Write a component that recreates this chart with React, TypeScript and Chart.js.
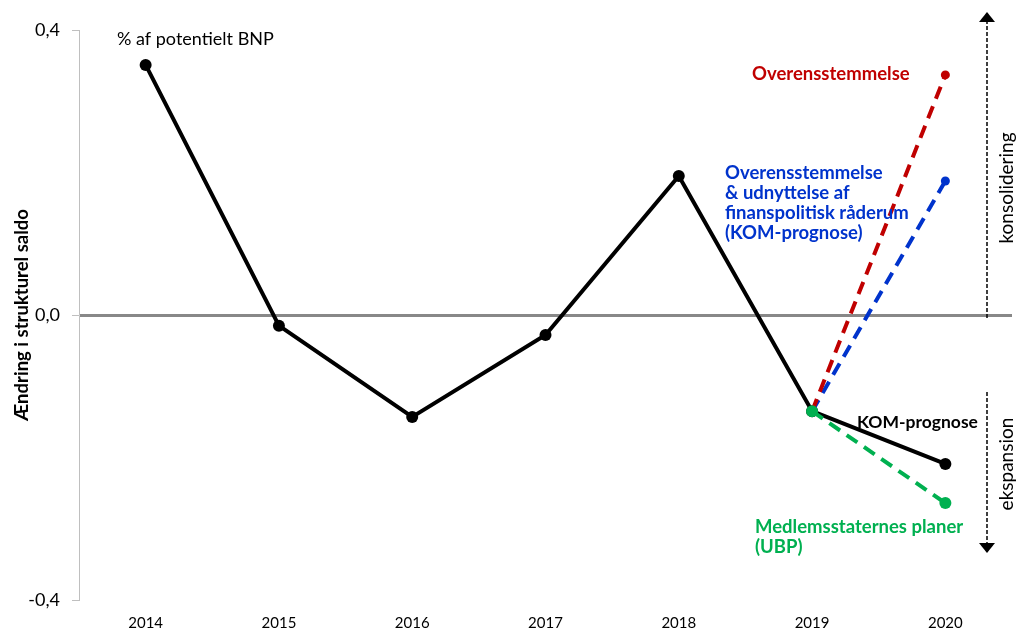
import React, { useEffect, useRef } from "react";
import { Chart, registerables } from "chart.js";

Chart.register(...registerables);

const years = ["2014", "2015", "2016", "2017", "2018", "2019", "2020"];
const komPrognose = [0.351, -0.015, -0.143, -0.028, 0.195, -0.135, -0.209];
const overensstemmelse = [null, null, null, null, null, -0.135, 0.337];
const raaderum = [null, null, null, null, null, -0.135, 0.188];
const ubp = [null, null, null, null, null, -0.135, -0.264];
const yTicks = [-0.4, 0, 0.4];

const FONT = "Lato, 'Open Sans', sans-serif";

const annotationPlugin = {
  id: "annotations",
  afterDraw(chart: any) {
    const ctx = chart.ctx as CanvasRenderingContext2D;
    ctx.save();
    ctx.textBaseline = "middle";
    ctx.fillStyle = "#000";
    ctx.font = `18px ${FONT}`;
    ctx.textAlign = "left";
    ctx.fillText("% af potentielt BNP", 117, 39);

    ctx.font = `bold 18.5px ${FONT}`;
    ctx.fillStyle = "#C00000";
    ctx.fillText("Overensstemmelse", 752, 74);

    ctx.fillStyle = "#0033CC";
    const blue = ["Overensstemmelse", "& udnyttelse af", "finanspolitisk råderum", "(KOM-prognose)"];
    blue.forEach((t, i) => ctx.fillText(t, 725, 173 + i * 20));

    ctx.fillStyle = "#00B050";
    ctx.fillText("Medlemsstaternes planer", 755, 527);
    ctx.fillText("(UBP)", 755, 547);

    ctx.font = `bold 17.5px ${FONT}`;
    ctx.fillStyle = "#000";
    ctx.fillText("KOM-prognose", 857, 422);

    ctx.strokeStyle = "#000";
    ctx.fillStyle = "#000";
    ctx.lineWidth = 1.5;
    ctx.setLineDash([4, 2]);
    const ax = 987;
    ctx.beginPath();
    ctx.moveTo(ax, 318);
    ctx.lineTo(ax, 20);
    ctx.moveTo(ax, 392);
    ctx.lineTo(ax, 546);
    ctx.stroke();
    ctx.setLineDash([]);
    ctx.beginPath();
    ctx.moveTo(ax, 12);
    ctx.lineTo(ax - 8, 22);
    ctx.lineTo(ax + 8, 22);
    ctx.closePath();
    ctx.fill();
    ctx.beginPath();
    ctx.moveTo(ax, 553);
    ctx.lineTo(ax - 8, 543);
    ctx.lineTo(ax + 8, 543);
    ctx.closePath();
    ctx.fill();

    ctx.font = `19px ${FONT}`;
    ctx.textAlign = "center";
    ctx.fillStyle = "#000";
    const rot = (t: string, x: number, y: number) => {
      ctx.save();
      ctx.translate(x, y);
      ctx.rotate(-Math.PI / 2);
      ctx.fillText(t, 0, 0);
      ctx.restore();
    };
    rot("konsolidering", 1007, 188);
    rot("ekspansion", 1007, 464);
    ctx.restore();
  },
};

export default function App() {
  const ref = useRef<HTMLCanvasElement>(null);
  useEffect(() => {
    if (!ref.current) return;
    const dash = [13, 8];
    const chart = new Chart(ref.current, {
      type: "line",
      data: {
        labels: years,
        datasets: [
          {
            label: "Medlemsstaternes planer (UBP)",
            data: ubp,
            borderColor: "#00B050",
            backgroundColor: "#00B050",
            borderWidth: 4,
            borderDash: dash,
            pointRadius: 6,
            pointBorderWidth: 0,
          },
          {
            label: "Overensstemmelse",
            data: overensstemmelse,
            borderColor: "#C00000",
            backgroundColor: "#C00000",
            borderWidth: 4,
            borderDash: dash,
            pointRadius: [0, 0, 0, 0, 0, 0, 4.5],
            pointBorderWidth: 0,
          },
          {
            label: "Overensstemmelse & udnyttelse af finanspolitisk råderum",
            data: raaderum,
            borderColor: "#0033CC",
            backgroundColor: "#0033CC",
            borderWidth: 4,
            borderDash: dash,
            pointRadius: [0, 0, 0, 0, 0, 0, 4.5],
            pointBorderWidth: 0,
          },
          {
            label: "KOM-prognose",
            data: komPrognose,
            borderColor: "#000",
            backgroundColor: "#000",
            borderWidth: 4,
            pointRadius: 6,
            pointBorderWidth: 0,
          },
        ],
      },
      options: {
        animation: false,
        responsive: false,
        layout: { padding: { top: 30, right: 6, left: 0, bottom: 0 } },
        plugins: { legend: { display: false }, tooltip: { enabled: false } },
        scales: {
          x: {
            offset: true,
            grid: { display: false, drawTicks: false },
            border: { display: false },
            ticks: { color: "#000", font: { family: FONT, size: 15 }, padding: 14 },
            afterFit(scale: any) {
              scale.height = 30;
            },
          },
          y: {
            min: -0.4,
            max: 0.4,
            afterBuildTicks(scale: any) {
              scale.ticks = yTicks.map((v) => ({ value: v }));
            },
            border: { display: true, color: "#BFBFBF", width: 1 },
            grid: {
              color: (c: any) => (c.tick && c.tick.value === 0 ? "#888888" : "rgba(0,0,0,0)"),
              lineWidth: (c: any) => (c.tick && c.tick.value === 0 ? 3 : 1),
              tickColor: "#BFBFBF",
              tickWidth: 1,
              tickLength: 7,
            },
            ticks: {
              color: "#000",
              font: { family: FONT, size: 18 },
              padding: 12,
              callback: (v: any) => Number(v).toFixed(1).replace(".", ","),
            },
            title: {
              display: true,
              text: "Ændring i strukturel saldo",
              color: "#000",
              font: { family: FONT, size: 18.5, weight: "bold" },
              padding: { top: 11, bottom: 0 },
            },
            afterFit(scale: any) {
              scale.width = 79;
            },
          },
        },
      },
      plugins: [annotationPlugin],
    });
    return () => chart.destroy();
  }, []);
  return (
    <div style={{ position: "fixed", left: 0, top: 0, width: 1018, height: 630, background: "#fff" }}>
      <canvas ref={ref} width={1018} height={630} />
    </div>
  );
}
